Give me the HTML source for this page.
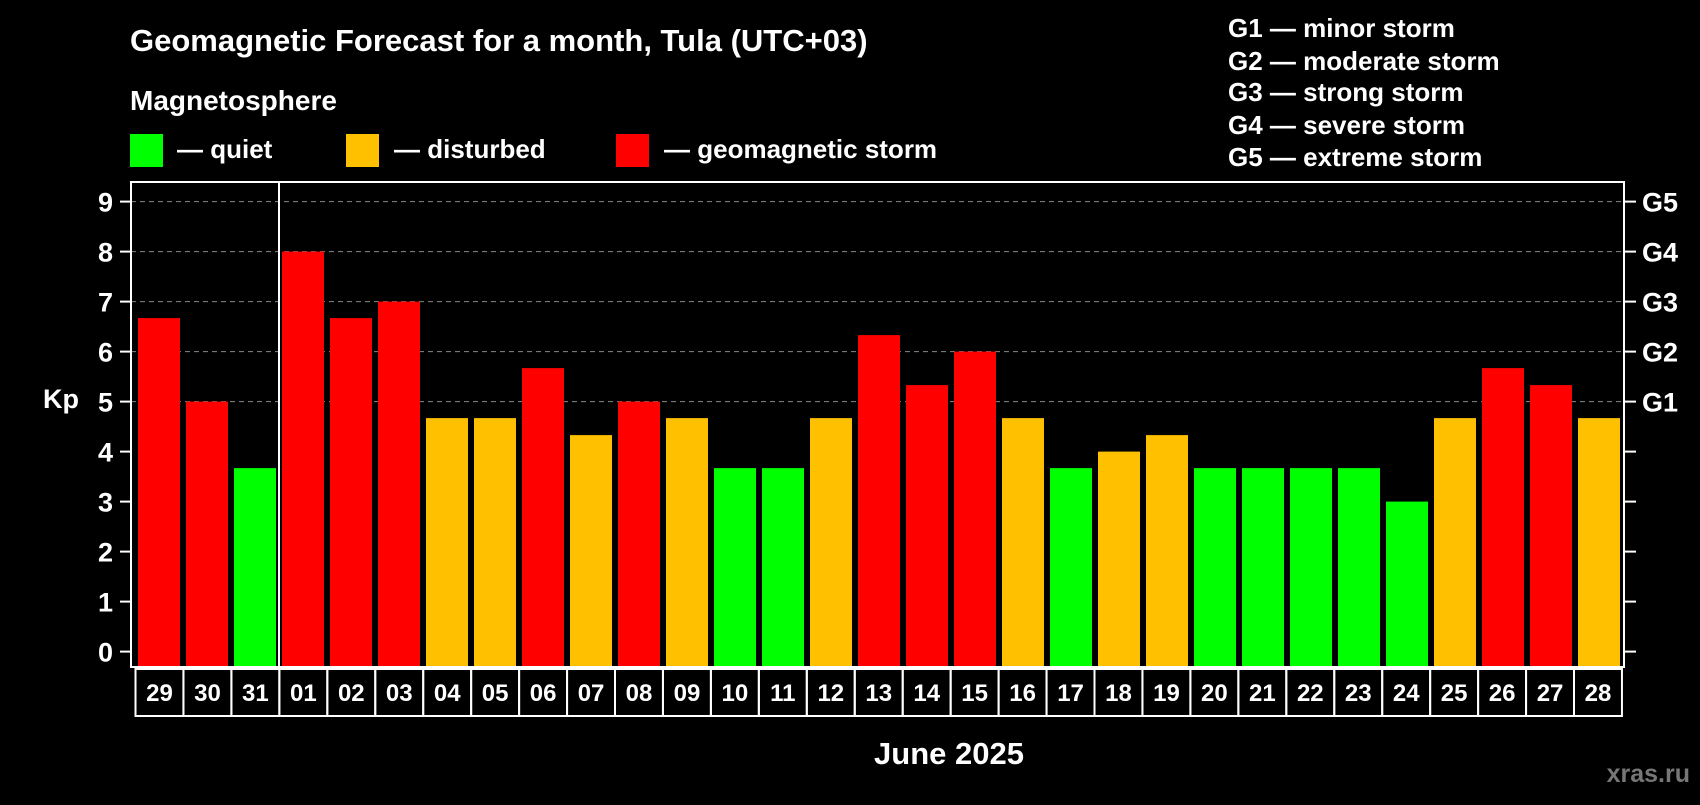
<!DOCTYPE html>
<html><head><meta charset="utf-8"><style>
body{margin:0;background:#000;}
svg text{font-family:"Liberation Sans",sans-serif;font-weight:bold;fill:#fff;}
</style></head><body>
<svg id="c" width="1700" height="800">
<text x="130" y="51" font-size="31">Geomagnetic Forecast for a month, Tula (UTC+03)</text>
<text x="130" y="110" font-size="28">Magnetosphere</text>
<rect x="130" y="134" width="33" height="33" fill="#00ff00"/>
<text x="177" y="158" font-size="26">— quiet</text>
<rect x="346" y="134" width="33" height="33" fill="#ffc000"/>
<text x="394" y="158" font-size="26">— disturbed</text>
<rect x="616" y="134" width="33" height="33" fill="#ff0000"/>
<text x="664" y="158" font-size="26">— geomagnetic storm</text>
<g font-size="26">
<text x="1228" y="37">G1 — minor storm</text>
<text x="1228" y="70">G2 — moderate storm</text>
<text x="1228" y="101">G3 — strong storm</text>
<text x="1228" y="134">G4 — severe storm</text>
<text x="1228" y="166">G5 — extreme storm</text>
</g>
<text x="43" y="408" font-size="27">Kp</text>
<text x="949" y="764" font-size="31" text-anchor="middle">June 2025</text>
<text x="1690" y="782" font-size="25" text-anchor="end" style="fill:#777">xras.ru</text>
<g id="grid"></g><g id="bars"></g><g id="axes"></g>
</svg>
<script>
const days=["29","30","31","01","02","03","04","05","06","07","08","09","10","11","12","13","14","15","16","17","18","19","20","21","22","23","24","25","26","27","28"];
const kp=[6.67,5,3.67,8,6.67,7,4.67,4.67,5.67,4.33,5,4.67,3.67,3.67,4.67,6.33,5.33,6,4.67,3.67,4,4.33,3.67,3.67,3.67,3.67,3,4.67,5.67,5.33,4.67];
const yTicks=[0,1,2,3,4,5,6,7,8,9];
const gLabels=["G1","G2","G3","G4","G5"];
const gLevels=[5,6,7,8,9];
const NS="http://www.w3.org/2000/svg";
const L=131,R=1624,T=182,B=667;
const y=v=>651.6-v*50;
const x=i=>138+i*48;
function mk(t,a,p){const e=document.createElementNS(NS,t);for(const k in a)e.setAttribute(k,a[k]);p.appendChild(e);return e;}
const grid=document.getElementById('grid'),bars=document.getElementById('bars'),axes=document.getElementById('axes');
gLevels.forEach(v=>{const l=mk('line',{x1:L,x2:R,y1:y(v),y2:y(v),stroke:'#888','stroke-dasharray':'5,4','stroke-width':1},grid);

});
kp.forEach((v,i)=>{const c=v<4?'#00ff00':(v<5?'#ffc000':'#ff0000');
const r=mk('rect',{x:x(i),y:y(v),width:42,height:B-y(v),fill:c},bars);

});
const f=mk('rect',{x:L,y:T,width:R-L,height:B-T,fill:'none',stroke:'#fff','stroke-width':2},axes);


const sep=mk('line',{x1:279,x2:279,y1:T,y2:B,stroke:'#fff','stroke-width':2},axes);


yTicks.forEach(v=>{mk('line',{x1:120,x2:L,y1:y(v),y2:y(v),stroke:'#fff','stroke-width':2},axes);
mk('line',{x1:R,x2:1636,y1:y(v),y2:y(v),stroke:'#fff','stroke-width':2},axes);
const t=mk('text',{x:113,y:y(v)+10,'font-size':27,'text-anchor':'end'},axes);t.textContent=v;

});
gLabels.forEach((g,i)=>{const t=mk('text',{x:1642,y:y(gLevels[i])+10,'font-size':27},axes);t.textContent=g;

});
days.forEach((d,i)=>{const bx=135.5+i*47.95;
const r=mk('rect',{x:bx,y:B+2,width:47.95,height:47,fill:'none',stroke:'#fff','stroke-width':2},axes);


const t=mk('text',{x:bx+24,y:B+34,'font-size':24,'text-anchor':'middle'},axes);t.textContent=d;

});
</script>
</body></html>
